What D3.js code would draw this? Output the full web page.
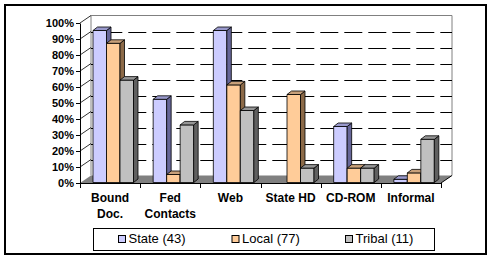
<!DOCTYPE html>
<html>
<head>
<meta charset="utf-8">
<script src="https://cdn.jsdelivr.net/npm/d3@7"></script>
<style>
  body { margin: 0; background: #fff; }
  svg { display: block; font-family: Arial, "Liberation Sans", sans-serif; }
</style>
</head>
<body>
<div id="chart"></div>
<script>
// chart data
var categories = ['Bound Doc.', 'Fed Contacts', 'Web', 'State HD', 'CD-ROM', 'Informal'];
var categoryLines = [['Bound', 'Doc.'], ['Fed', 'Contacts'], ['Web'], ['State HD'], ['CD-ROM'], ['Informal']];
var seriesNames = ['State (43)', 'Local (77)', 'Tribal (11)'];
var stateVals = [95, 52, 95, 0, 35, 2];
var localVals = [87, 5, 61, 55, 9, 6];
var tribalVals = [64, 36, 45, 9, 9, 27];
var yTicks = [0, 10, 20, 30, 40, 50, 60, 70, 80, 90, 100];

var seriesVals = [stateVals, localVals, tribalVals];
var faceColors = [
  {front: '#CCCCFF', side: '#666699', top: '#9999CC'},
  {front: '#FFCC99', side: '#8C6A48', top: '#C8A07A'},
  {front: '#C0C0C0', side: '#606060', top: '#969696'}
];

var W = 492, H = 261;
var svg = d3.select('#chart').append('svg')
    .attr('width', W)
    .attr('height', H);

// outer frame
svg.append('rect')
    .attr('x', 5).attr('y', 5)
    .attr('width', 481).attr('height', 249)
    .attr('fill', '#fff')
    .attr('stroke', '#000')
    .attr('stroke-width', 2);

// scales (front plane)
var x = d3.scaleBand().domain(categories).range([80, 441]).paddingInner(0).paddingOuter(0);
var y = d3.scaleLinear().domain([0, 100]).range([183, 23]);
var x1 = d3.scaleBand().domain(seriesNames).range([13, 53.5]);

// depth of the plot box and of the bars
var depthX = 11, depthY = -7.5;
var barDX = 4.5, barDY = -3.5;
var x0 = x.range()[0], xEnd = x.range()[1];

// back wall
svg.append('rect')
    .attr('x', x0 + depthX).attr('y', y(100) + depthY)
    .attr('width', xEnd - x0).attr('height', y(0) - y(100))
    .attr('fill', '#fff');

svg.append('path')
    .attr('d', 'M' + (x0 + depthX) + ',' + (y(0) + depthY) +
               'V' + (y(100) + depthY) + 'H' + (xEnd + depthX) + 'V' + (y(0) + depthY))
    .attr('fill', 'none')
    .attr('stroke', '#808080')
    .attr('stroke-width', 1);

// dashed gridlines on the back wall
svg.append('g').selectAll('line')
    .data(yTicks.filter(function(d) { return d > 0 && d < 100; }))
    .enter().append('line')
    .attr('x1', x0 + depthX).attr('x2', xEnd + depthX)
    .attr('y1', function(d) { return Math.round(y(d) + depthY) + 0.5; })
    .attr('y2', function(d) { return Math.round(y(d) + depthY) + 0.5; })
    .attr('stroke', '#000')
    .attr('stroke-width', 1)
    .attr('stroke-dasharray', '18,6')
    .attr('stroke-dashoffset', 10.7);

// slanted lines on the side wall
svg.append('g').selectAll('line')
    .data(yTicks.filter(function(d) { return d > 0; }))
    .enter().append('line')
    .attr('x1', x0).attr('x2', x0 + depthX)
    .attr('y1', function(d) { return y(d); })
    .attr('y2', function(d) { return y(d) + depthY; })
    .attr('stroke', '#000')
    .attr('stroke-width', 0.8);

// floor
svg.append('polygon')
    .attr('points', [[x0, y(0)], [xEnd, y(0)], [xEnd + depthX, y(0) + depthY], [x0 + depthX, y(0) + depthY]].join(' '))
    .attr('fill', '#808080');
svg.append('line')
    .attr('x1', xEnd).attr('y1', y(0))
    .attr('x2', xEnd + depthX).attr('y2', y(0) + depthY)
    .attr('stroke', '#000').attr('stroke-width', 1);

// bars, painted left to right
var bars = svg.append('g');
categories.forEach(function(cat, ci) {
  seriesNames.forEach(function(s, si) {
    var v = seriesVals[si][ci];
    if (v <= 0) return;
    var left = x(cat) + x1(s);
    var right = left + x1.bandwidth();
    var base = y(0) - 0.5;
    var top = y(v) - 0.5;
    var c = faceColors[si];
    var g = bars.append('g')
        .attr('stroke', '#000')
        .attr('stroke-width', 0.8)
        .attr('stroke-linejoin', 'round');
    g.append('polygon')
        .attr('points', [[left, base], [right, base], [right, top], [left, top]].join(' '))
        .attr('fill', c.front);
    g.append('polygon')
        .attr('points', [[right, base], [right + barDX, base + barDY], [right + barDX, top + barDY], [right, top]].join(' '))
        .attr('fill', c.side);
    g.append('polygon')
        .attr('points', [[left, top], [right, top], [right + barDX, top + barDY], [left + barDX, top + barDY]].join(' '))
        .attr('fill', c.top);
  });
});

// y axis
var yAxis = svg.append('g')
    .attr('transform', 'translate(' + x0 + ',0)')
    .call(d3.axisLeft(y)
        .tickValues(yTicks)
        .tickFormat(function(d) { return d + '%'; })
        .tickSize(4)
        .tickSizeOuter(0)
        .tickPadding(2));
yAxis.selectAll('text')
    .style('font-family', 'Arial, "Liberation Sans", sans-serif')
    .style('font-size', '11px')
    .style('font-weight', 'bold')
    .attr('fill', '#000');

// x axis line and boundary ticks
svg.append('line')
    .attr('x1', x0).attr('x2', xEnd)
    .attr('y1', y(0) + 0.5).attr('y2', y(0) + 0.5)
    .attr('stroke', '#000');
var bounds = categories.map(function(c) { return x(c); }).concat([xEnd]);
svg.append('g').selectAll('line')
    .data(bounds)
    .enter().append('line')
    .attr('x1', function(d) { return Math.round(d) + 0.5; })
    .attr('x2', function(d) { return Math.round(d) + 0.5; })
    .attr('y1', y(0)).attr('y2', y(0) + 5)
    .attr('stroke', '#000');

// category labels
var labels = svg.append('g').selectAll('text')
    .data(categories)
    .enter().append('text')
    .attr('x', function(d) { return x(d) + x.bandwidth() / 2; })
    .attr('y', 202)
    .attr('text-anchor', 'middle')
    .style('font-size', '12px')
    .style('font-weight', 'bold')
    .attr('fill', '#000');
labels.each(function(d, i) {
  var t = d3.select(this);
  categoryLines[i].forEach(function(line, li) {
    t.append('tspan')
        .attr('x', x(d) + x.bandwidth() / 2)
        .attr('dy', li === 0 ? 0 : 15.5)
        .text(line);
  });
});

// legend
var legend = svg.append('g');
legend.append('rect')
    .attr('x', 93.5).attr('y', 228.5)
    .attr('width', 341).attr('height', 22)
    .attr('fill', '#fff')
    .attr('stroke', '#000');
var legendX = [118, 231.5, 345];
seriesNames.forEach(function(s, si) {
  legend.append('rect')
      .attr('x', legendX[si] + 0.5).attr('y', 235.5)
      .attr('width', 7).attr('height', 7)
      .attr('fill', faceColors[si].front)
      .attr('stroke', '#000');
  legend.append('text')
      .attr('x', legendX[si] + 10.5)
      .attr('y', 243)
      .style('font-size', '13px')
      .attr('fill', '#000')
      .text(s);
});
</script>
</body>
</html>
